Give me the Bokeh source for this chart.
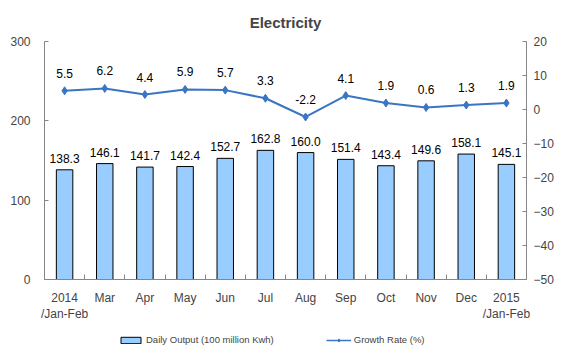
import numpy as np
from bokeh.plotting import figure
from bokeh.layouts import column
from bokeh.models import (Range1d, LinearAxis, FixedTicker, Legend, LegendItem,
                          ColumnDataSource)
from bokeh.core.properties import value
from bokeh.embed import file_html
from bokeh.resources import INLINE

categories = ["2014\n/Jan-Feb", "Mar", "Apr", "May", "Jun", "Jul", "Aug",
              "Sep", "Oct", "Nov", "Dec", "2015\n/Jan-Feb"]
daily_output = [138.3, 146.1, 141.7, 142.4, 152.7, 162.8, 160.0, 151.4,
                143.4, 149.6, 158.1, 145.1]
growth_rate = [5.5, 6.2, 4.4, 5.9, 5.7, 3.3, -2.2, 4.1, 1.9, 0.6, 1.3, 1.9]
left_ticks = [0, 100, 200, 300]
right_ticks = [-50, -40, -30, -20, -10, 0, 10, 20]
legend_labels = ["Daily Output (100 million Kwh)", "Growth Rate (%)"]

FONT = "Liberation Sans"
BAR_COLOR = "#99CCFF"
LINE_COLOR = "#3A75C4"

n = len(categories)
xc = np.arange(n) + 0.5

src = ColumnDataSource(dict(
    x=xc, out=daily_output, g=growth_rate,
    out_lbl=["%.1f" % v for v in daily_output],
    g_lbl=["%.1f" % v for v in growth_rate],
))

p = figure(frame_width=482, frame_height=238, output_backend="svg",
           toolbar_location=None,
           x_range=Range1d(0, n), y_range=Range1d(0, 300),
           min_border_left=44, min_border_right=25, min_border_top=41,
           min_border_bottom=0)
p.outline_line_color = None
p.grid.visible = False
p.background_fill_color = "white"

p.title.text = "Electricity"
p.title.align = "center"
p.title.text_font = FONT
p.title.text_font_size = "15px"
p.title.text_font_style = "bold"
p.title.standoff = 22

p.extra_y_ranges = {"g": Range1d(-50, 20)}

# left axis
ya = p.yaxis[0]
ya.ticker = FixedTicker(ticks=left_ticks)
ya.axis_line_color = "#868686"
ya.major_tick_line_color = "#868686"
ya.major_tick_in = 4
ya.major_tick_out = 0
ya.minor_tick_line_color = None
ya.major_label_text_font = FONT
ya.major_label_text_font_size = "12px"
ya.major_label_standoff = 14

# right axis
ra = LinearAxis(y_range_name="g", ticker=FixedTicker(ticks=right_ticks))
ra.axis_line_color = "#868686"
ra.major_tick_line_color = "#868686"
ra.major_tick_in = 4
ra.major_tick_out = 0
ra.minor_tick_line_color = None
ra.major_label_text_font = FONT
ra.major_label_text_font_size = "12px"
ra.major_label_standoff = 7
p.add_layout(ra, "right")

# bottom axis
xa = p.xaxis[0]
xa.ticker = FixedTicker(ticks=list(xc), minor_ticks=list(np.arange(n + 1)))
xa.major_label_overrides = {float(x): c for x, c in zip(xc, categories)}
xa.major_tick_line_color = None
xa.minor_tick_line_color = "#868686"
xa.minor_tick_in = 5
xa.minor_tick_out = 0
xa.axis_line_color = "#868686"
xa.major_label_text_font = FONT
xa.major_label_text_font_size = "12px"
xa.major_label_standoff = 5

p.vbar(x="x", top="out", width=0.41, source=src, fill_color=BAR_COLOR,
       line_color="black", line_width=1)
p.line(x="x", y="g", source=src, y_range_name="g",
       line_color=LINE_COLOR, line_width=2)
p.scatter(x="x", y="g", source=src, y_range_name="g", marker="diamond",
          size=8, fill_color=LINE_COLOR, line_color=LINE_COLOR)

p.text(x="x", y="out", text="out_lbl", source=src, text_align="center",
       text_baseline="bottom", y_offset=-7, text_font=value(FONT),
       text_font_size="12px", text_color="black")
p.text(x="x", y="g", text="g_lbl", source=src, y_range_name="g",
       text_align="center", text_baseline="bottom", y_offset=-13,
       text_font=value(FONT), text_font_size="12px", text_color="black")

# legend strip below the chart (series drawn out of its view, only the key shows)
lg = figure(width=551, height=24, output_backend="svg", toolbar_location=None,
            x_range=Range1d(100, 101), y_range=Range1d(1000, 1001),
            x_axis_location=None, y_axis_location=None,
            min_border_left=0, min_border_right=0, min_border_top=0,
            min_border_bottom=0)
lg.outline_line_color = None
lg.grid.visible = False
lb = lg.vbar(x="x", top="out", width=0.41, source=src, fill_color=BAR_COLOR,
             line_color="black", line_width=1)
ll = lg.line(x="x", y="g", source=src, line_color=LINE_COLOR, line_width=1.5)
lp = lg.scatter(x="x", y="g", source=src, marker="diamond", size=6,
                fill_color=LINE_COLOR, line_color=LINE_COLOR)

legend = Legend(items=[
    LegendItem(label=legend_labels[0], renderers=[lb]),
    LegendItem(label=legend_labels[1], renderers=[ll, lp]),
], orientation="horizontal", location=(74, 3))
legend.border_line_color = None
legend.background_fill_alpha = 0
legend.label_text_font = FONT
legend.label_text_font_size = "9.5px"
legend.glyph_width = 25
legend.glyph_height = 8
legend.spacing = 52
legend.label_standoff = 3
legend.padding = 2
legend.margin = 0
lg.add_layout(legend, "center")

layout = column(p, lg, spacing=0)

open("out.html", "w").write(file_html(layout, INLINE))
